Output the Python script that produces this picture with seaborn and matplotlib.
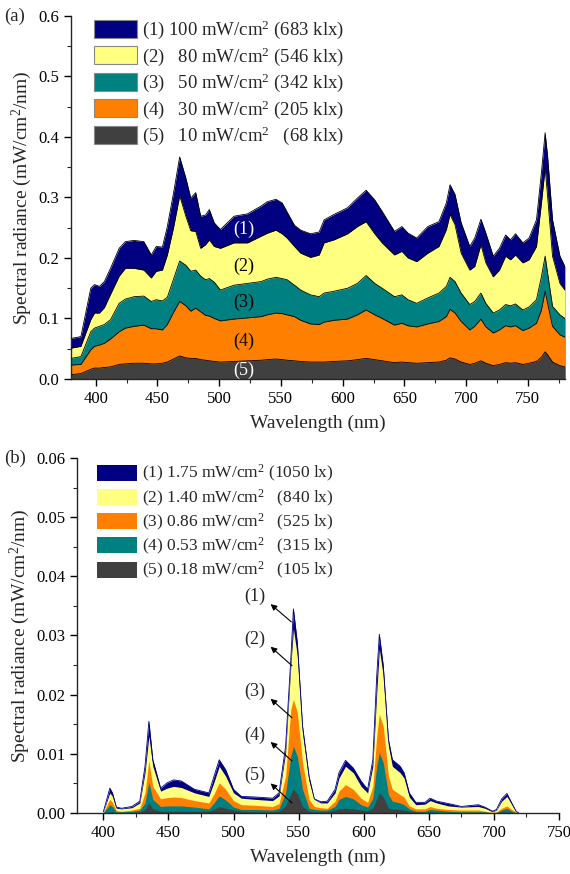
import numpy as np
import pandas as pd
import matplotlib
matplotlib.use("Agg")
import matplotlib.pyplot as plt
from matplotlib.patches import Patch
from matplotlib.ticker import MultipleLocator
import seaborn as sns

# ---- panel (a): solar simulator spectra ----
wl_a = [380, 388, 396, 399, 403, 407, 412, 419, 424, 431, 439, 445, 449, 454, 458, 463,
        468, 473, 477, 481, 485, 489, 492, 496, 501, 512, 523, 534, 539, 546, 551, 555,
        561, 566, 574, 581, 585, 593, 604, 612, 619, 626, 632, 642, 648, 653, 660, 669,
        678, 684, 687, 691, 696, 703, 707, 712, 716, 722, 727, 732, 736, 740, 746, 751,
        757, 761, 764, 766, 770, 776, 780]
a1 = [0.067, 0.070, 0.150, 0.156, 0.153, 0.161, 0.183, 0.216, 0.227, 0.229, 0.227, 0.205,
      0.219, 0.218, 0.252, 0.307, 0.367, 0.332, 0.299, 0.308, 0.269, 0.271, 0.280, 0.258,
      0.247, 0.269, 0.273, 0.286, 0.293, 0.297, 0.291, 0.276, 0.254, 0.246, 0.240, 0.243,
      0.263, 0.272, 0.283, 0.299, 0.312, 0.296, 0.277, 0.244, 0.252, 0.241, 0.233, 0.252,
      0.260, 0.291, 0.321, 0.305, 0.258, 0.219, 0.233, 0.264, 0.241, 0.203, 0.216, 0.238,
      0.230, 0.240, 0.225, 0.233, 0.263, 0.341, 0.407, 0.368, 0.263, 0.203, 0.186]
a2 = [0.051, 0.054, 0.098, 0.109, 0.109, 0.118, 0.140, 0.170, 0.183, 0.183, 0.180, 0.167,
      0.178, 0.180, 0.205, 0.250, 0.303, 0.269, 0.245, 0.244, 0.216, 0.222, 0.230, 0.219,
      0.216, 0.225, 0.225, 0.236, 0.241, 0.246, 0.240, 0.233, 0.219, 0.208, 0.201, 0.205,
      0.225, 0.230, 0.240, 0.252, 0.260, 0.240, 0.225, 0.205, 0.211, 0.200, 0.194, 0.208,
      0.219, 0.247, 0.272, 0.255, 0.208, 0.180, 0.186, 0.222, 0.192, 0.169, 0.180, 0.203,
      0.197, 0.205, 0.192, 0.197, 0.219, 0.291, 0.349, 0.302, 0.203, 0.158, 0.147]
a3 = [0.034, 0.037, 0.078, 0.084, 0.087, 0.090, 0.098, 0.125, 0.132, 0.136, 0.137, 0.128,
      0.131, 0.129, 0.135, 0.165, 0.195, 0.188, 0.178, 0.180, 0.170, 0.164, 0.166, 0.160,
      0.147, 0.155, 0.158, 0.161, 0.165, 0.168, 0.166, 0.164, 0.155, 0.147, 0.139, 0.136,
      0.142, 0.145, 0.150, 0.158, 0.171, 0.158, 0.150, 0.136, 0.139, 0.131, 0.125, 0.134,
      0.142, 0.153, 0.168, 0.161, 0.142, 0.123, 0.128, 0.142, 0.125, 0.109, 0.114, 0.123,
      0.121, 0.124, 0.114, 0.119, 0.131, 0.169, 0.203, 0.175, 0.120, 0.106, 0.100]
a4 = [0.023, 0.024, 0.048, 0.054, 0.056, 0.059, 0.066, 0.078, 0.084, 0.087, 0.089, 0.083,
      0.083, 0.081, 0.090, 0.110, 0.128, 0.121, 0.112, 0.117, 0.111, 0.105, 0.104, 0.100,
      0.096, 0.099, 0.101, 0.103, 0.106, 0.109, 0.108, 0.106, 0.103, 0.097, 0.091, 0.090,
      0.094, 0.097, 0.099, 0.106, 0.114, 0.106, 0.100, 0.089, 0.092, 0.088, 0.086, 0.091,
      0.095, 0.103, 0.115, 0.109, 0.095, 0.081, 0.087, 0.099, 0.086, 0.076, 0.081, 0.088,
      0.086, 0.088, 0.080, 0.084, 0.092, 0.114, 0.145, 0.125, 0.087, 0.073, 0.069]
a5 = [0.007, 0.009, 0.016, 0.018, 0.018, 0.019, 0.020, 0.024, 0.025, 0.026, 0.026, 0.025,
      0.025, 0.026, 0.028, 0.033, 0.038, 0.035, 0.034, 0.034, 0.032, 0.031, 0.030, 0.029,
      0.028, 0.029, 0.030, 0.031, 0.032, 0.033, 0.032, 0.031, 0.030, 0.029, 0.028, 0.028,
      0.028, 0.029, 0.030, 0.032, 0.034, 0.032, 0.030, 0.027, 0.028, 0.027, 0.026, 0.027,
      0.028, 0.031, 0.035, 0.033, 0.028, 0.024, 0.026, 0.030, 0.026, 0.022, 0.024, 0.027,
      0.026, 0.027, 0.024, 0.026, 0.029, 0.036, 0.045, 0.040, 0.028, 0.022, 0.020]
labels_a = ["(1) 100 mW/cm$^2$ (683 klx)",
            "(2)   80 mW/cm$^2$ (546 klx)",
            "(3)   50 mW/cm$^2$ (342 klx)",
            "(4)   30 mW/cm$^2$ (205 klx)",
            "(5)   10 mW/cm$^2$   (68 klx)"]
colors_a = ["#000080", "#FFFF80", "#008080", "#FF8000", "#404040"]

# ---- panel (b): indoor lamp spectra ----
wl_b = [400, 404, 405, 407, 410, 414, 422, 428, 432, 435, 438, 444, 449, 454, 460, 470,
        481, 485, 489, 494, 500, 506, 517, 530, 535, 540, 544, 546, 549, 553, 558, 562,
        567, 572, 578, 581, 586, 592, 598, 603, 607, 610, 612, 615, 619, 622, 628, 631,
        635, 640, 647, 651, 656, 665, 675, 688, 693, 699, 702, 706, 710, 713, 717, 719]
b1 = [0.0002, 0.0034, 0.0042, 0.0034, 0.0010, 0.0008, 0.0011, 0.0020, 0.0079, 0.0155,
      0.0090, 0.0042, 0.0051, 0.0056, 0.0054, 0.0040, 0.0034, 0.0062, 0.0090, 0.0073,
      0.0040, 0.0028, 0.0027, 0.0025, 0.0034, 0.0113, 0.0260, 0.0345, 0.0288, 0.0147,
      0.0062, 0.0024, 0.0019, 0.0020, 0.0040, 0.0068, 0.0089, 0.0076, 0.0054, 0.0040,
      0.0090, 0.0232, 0.0302, 0.0249, 0.0124, 0.0090, 0.0079, 0.0068, 0.0034, 0.0018,
      0.0018, 0.0025, 0.0020, 0.0016, 0.0011, 0.0014, 0.0010, 0.0003, 0.0006, 0.0024,
      0.0033, 0.0020, 0.0003, 0.0000]
b2 = [0.0002, 0.0028, 0.0034, 0.0028, 0.0008, 0.0007, 0.0009, 0.0017, 0.0068, 0.0130,
      0.0079, 0.0037, 0.0042, 0.0045, 0.0043, 0.0034, 0.0028, 0.0052, 0.0079, 0.0062,
      0.0034, 0.0025, 0.0023, 0.0021, 0.0029, 0.0102, 0.0249, 0.0311, 0.0266, 0.0136,
      0.0054, 0.0023, 0.0017, 0.0017, 0.0034, 0.0059, 0.0079, 0.0068, 0.0045, 0.0034,
      0.0079, 0.0203, 0.0277, 0.0232, 0.0113, 0.0079, 0.0068, 0.0059, 0.0027, 0.0014,
      0.0015, 0.0021, 0.0017, 0.0012, 0.0010, 0.0011, 0.0008, 0.0002, 0.0005, 0.0020,
      0.0028, 0.0017, 0.0002, 0.0000]
b3 = [0.0001, 0.0019, 0.0023, 0.0018, 0.0004, 0.0003, 0.0005, 0.0008, 0.0034, 0.0088,
      0.0045, 0.0024, 0.0026, 0.0027, 0.0026, 0.0021, 0.0017, 0.0032, 0.0051, 0.0040,
      0.0021, 0.0014, 0.0013, 0.0011, 0.0016, 0.0062, 0.0175, 0.0192, 0.0170, 0.0085,
      0.0023, 0.0011, 0.0009, 0.0008, 0.0020, 0.0037, 0.0048, 0.0040, 0.0025, 0.0018,
      0.0045, 0.0130, 0.0167, 0.0147, 0.0062, 0.0040, 0.0031, 0.0027, 0.0012, 0.0007,
      0.0007, 0.0011, 0.0008, 0.0006, 0.0005, 0.0005, 0.0003, 0.0001, 0.0002, 0.0008,
      0.0012, 0.0007, 0.0001, 0.0000]
b4 = [0.0001, 0.0011, 0.0014, 0.0011, 0.0002, 0.0002, 0.0003, 0.0005, 0.0017, 0.0052,
      0.0023, 0.0011, 0.0012, 0.0012, 0.0012, 0.0010, 0.0007, 0.0017, 0.0029, 0.0022,
      0.0010, 0.0006, 0.0006, 0.0005, 0.0008, 0.0034, 0.0096, 0.0113, 0.0096, 0.0040,
      0.0008, 0.0006, 0.0005, 0.0005, 0.0011, 0.0023, 0.0028, 0.0024, 0.0014, 0.0010,
      0.0025, 0.0079, 0.0102, 0.0085, 0.0031, 0.0020, 0.0017, 0.0014, 0.0007, 0.0003,
      0.0003, 0.0006, 0.0005, 0.0003, 0.0002, 0.0002, 0.0002, 0.0000, 0.0001, 0.0005,
      0.0008, 0.0004, 0.0000, 0.0000]
b5 = [0.0000, 0.0002, 0.0002, 0.0002, 0.0001, 0.0001, 0.0001, 0.0002, 0.0006, 0.0017,
      0.0007, 0.0003, 0.0003, 0.0003, 0.0003, 0.0003, 0.0003, 0.0006, 0.0011, 0.0008,
      0.0005, 0.0003, 0.0002, 0.0002, 0.0003, 0.0012, 0.0032, 0.0040, 0.0033, 0.0011,
      0.0003, 0.0002, 0.0002, 0.0002, 0.0005, 0.0007, 0.0008, 0.0007, 0.0005, 0.0004,
      0.0008, 0.0023, 0.0034, 0.0027, 0.0008, 0.0007, 0.0006, 0.0005, 0.0003, 0.0002,
      0.0001, 0.0002, 0.0001, 0.0001, 0.0001, 0.0001, 0.0001, 0.0000, 0.0000, 0.0002,
      0.0002, 0.0001, 0.0000, 0.0000]
labels_b = ["(1) 1.75 mW/cm$^2$ (1050 lx)",
            "(2) 1.40 mW/cm$^2$   (840 lx)",
            "(3) 0.86 mW/cm$^2$   (525 lx)",
            "(4) 0.53 mW/cm$^2$   (315 lx)",
            "(5) 0.18 mW/cm$^2$   (105 lx)"]
colors_b = ["#000080", "#FFFF80", "#FF8000", "#008080", "#404040"]

sns.set_style("ticks")
plt.rcParams['font.family'] = ['Liberation Serif', 'DejaVu Serif']
plt.rcParams['mathtext.fontset'] = 'custom'
plt.rcParams['mathtext.rm'] = 'Liberation Serif'
plt.rcParams['mathtext.it'] = 'Liberation Serif:italic'
plt.rcParams['mathtext.bf'] = 'Liberation Serif:bold'
plt.rcParams['xtick.direction'] = 'out'
plt.rcParams['ytick.direction'] = 'out'

fig = plt.figure(figsize=(5.70, 8.74), dpi=100)
ax1 = fig.add_axes([0.1246, 0.5664, 0.8664, 0.4153])
ax2 = fig.add_axes([0.1356, 0.0698, 0.8451, 0.4062])

# panel (a) - largest first, each with thin black outline
series_a = [a1, a2, a3, a4, a5]
for ys, c in zip(series_a, colors_a):
    ax1.fill_between(wl_a, 0, ys, color=c, lw=0, zorder=2)
    sns.lineplot(x=wl_a, y=ys, ax=ax1, color="black", lw=0.6, zorder=3, legend=False)

ax1.set_xlim(380, 780)
ax1.set_ylim(0, 0.6)
ax1.xaxis.set_major_locator(MultipleLocator(50))
ax1.xaxis.set_minor_locator(MultipleLocator(25))
ax1.yaxis.set_major_locator(MultipleLocator(0.1))
ax1.yaxis.set_minor_locator(MultipleLocator(0.05))
ax1.yaxis.set_major_formatter(matplotlib.ticker.FormatStrFormatter('%.1f'))
ax1.set_xticks([400, 450, 500, 550, 600, 650, 700, 750])

for lab, (x, y, col) in zip(["(1)", "(2)", "(3)", "(4)", "(5)"],
                            [(520, 0.247, "white"), (520, 0.186, "black"),
                             (520, 0.126, "black"), (520, 0.063, "black"),
                             (520, 0.014, "white")]):
    ax1.text(x, y, lab, color=col, fontsize=13, ha="center", va="center", zorder=5)

handles_a = [Patch(facecolor=c, edgecolor="#888888", lw=0.8) for c in colors_a]
ax1.legend(handles_a, labels_a, loc="upper left", bbox_to_anchor=(0.046, 0.992),
           frameon=False, fontsize=13.5, handlelength=2.3, handleheight=1.1,
           labelspacing=0.21, handletextpad=0.3, borderaxespad=0, borderpad=0)

# panel (b)
series_b = [b1, b2, b3, b4, b5]
for ys, c in zip(series_b, colors_b):
    ax2.fill_between(wl_b, 0, ys, color=c, lw=0, zorder=2)
sns.lineplot(x=wl_b, y=b1, ax=ax2, color="#000080", lw=0.6, zorder=3, legend=False)

ax2.set_xlim(380, 750)
ax2.set_ylim(0, 0.06)
ax2.xaxis.set_major_locator(MultipleLocator(50))
ax2.xaxis.set_minor_locator(MultipleLocator(25))
ax2.yaxis.set_major_locator(MultipleLocator(0.01))
ax2.yaxis.set_minor_locator(MultipleLocator(0.005))
ax2.yaxis.set_major_formatter(matplotlib.ticker.FormatStrFormatter('%.2f'))
ax2.set_xticks([400, 450, 500, 550, 600, 650, 700, 750])

arrows_b = [((516.5, 0.0366), (528.5, 0.0353), (544.4, 0.0323)),
            ((516.5, 0.0294), (528.5, 0.0281), (544.9, 0.0249)),
            ((516.5, 0.0205), (528.5, 0.0193), (544.9, 0.0161)),
            ((516.5, 0.0132), (528.5, 0.0120), (544.9, 0.0088)),
            ((516.5, 0.0064), (528.5, 0.0050), (544.9, 0.0017))]
for lab, (tpos, head, tail) in zip(["(1)", "(2)", "(3)", "(4)", "(5)"], arrows_b):
    ax2.text(tpos[0], tpos[1], lab, fontsize=13, ha="center", va="center", zorder=5)
    ax2.annotate("", xy=head, xytext=tail, zorder=6,
                 arrowprops=dict(arrowstyle="-|>", color="black", lw=0.8,
                                 mutation_scale=9, shrinkA=0, shrinkB=0))

handles_b = [Patch(facecolor=c, edgecolor="none") for c in colors_b]
ax2.legend(handles_b, labels_b, loc="upper left", bbox_to_anchor=(0.041, 0.985),
           frameon=False, fontsize=12.5, handlelength=2.3, handleheight=1.05,
           labelspacing=0.18, handletextpad=0.3, borderaxespad=0, borderpad=0)

for ax in (ax1, ax2):
    sns.despine(ax=ax)
    ax.spines['left'].set_linewidth(1.0)
    ax.spines['bottom'].set_linewidth(1.0)
    ax.tick_params(which="major", length=5, width=1.0, labelsize=12, colors="black")
    ax.tick_params(which="minor", length=3, width=0.8)
    ax.set_xlabel("Wavelength (nm)", fontsize=14, labelpad=6)
    ax.set_ylabel("Spectral radiance (mW/cm$^2$/nm)", fontsize=14, labelpad=3)

fig.text(0.008, 0.981, "(a)", fontsize=13.5, va="center", ha="left")
fig.text(0.008, 0.476, "(b)", fontsize=13.5, va="center", ha="left")

fig.savefig("out.png", dpi=100)
